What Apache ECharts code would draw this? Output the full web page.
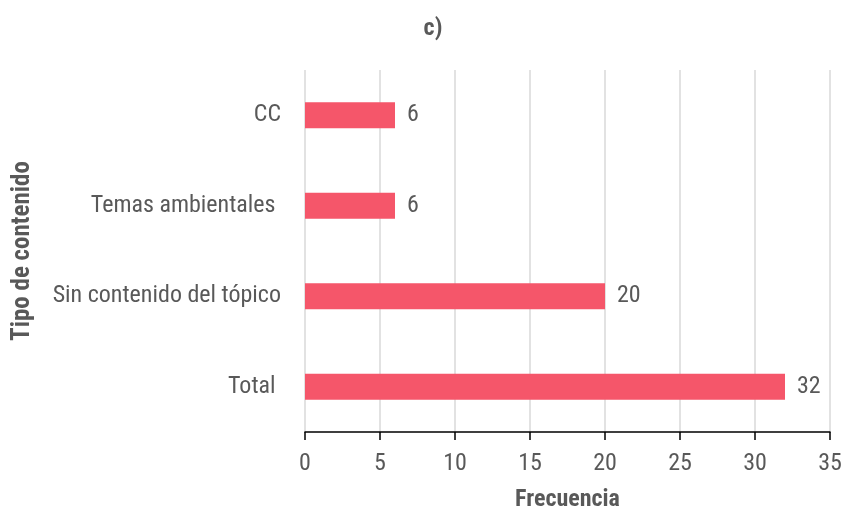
<!DOCTYPE html>
<html>
<head>
<meta charset="utf-8">
<script src="https://cdn.jsdelivr.net/npm/echarts@6/dist/echarts.min.js"></script>
<style>html,body{margin:0;padding:0;background:#fff}#c{width:845px;height:511px}</style>
</head>
<body>
<div id="c"></div>
<script>
const categories = ['CC', 'Temas ambientales ', 'Sin contenido del tópico', 'Total '];
const values = [6, 6, 20, 32];
const xTicks = { min: 0, max: 35, interval: 5 };
const FONT = '"Liberation Sans Narrow", "Roboto Condensed", "DejaVu Sans Condensed", sans-serif';
const GRAY = '#595959';

const chart = echarts.init(document.getElementById('c'));
chart.setOption({
  animation: false,
  title: {
    text: 'c)', left: 428, top: 12, textAlign: 'center',
    textStyle: { fontFamily: FONT, fontSize: 24, fontWeight: 'bold', color: GRAY }
  },
  grid: { left: 305, right: 15, top: 70, bottom: 79, containLabel: false, outerBoundsMode: 'none' },
  xAxis: {
    type: 'value', min: xTicks.min, max: xTicks.max, interval: xTicks.interval,
    name: 'Frecuencia', nameLocation: 'middle', nameGap: 56,
    nameTextStyle: { fontFamily: FONT, fontSize: 24, fontWeight: 'bold', color: GRAY },
    axisLine: { show: true, lineStyle: { color: '#000', width: 1.5 } },
    axisTick: { show: true, length: 8, lineStyle: { color: '#000', width: 1.5 } },
    axisLabel: { fontFamily: FONT, fontSize: 24, color: GRAY, margin: 20 },
    splitLine: { show: true, lineStyle: { color: '#d9d9d9', width: 1.5 } }
  },
  yAxis: {
    type: 'category', data: categories, inverse: true,
    name: 'Tipo de contenido', nameLocation: 'middle', nameGap: 270, nameRotate: 90,
    nameTextStyle: { fontFamily: FONT, fontSize: 25, fontWeight: 'bold', color: GRAY },
    axisLine: { show: false }, axisTick: { show: false },
    axisLabel: { fontFamily: FONT, fontSize: 24, color: GRAY, margin: 24 }
  },
  series: [{
    type: 'bar', data: values, barWidth: 26,
    itemStyle: { color: '#F5566A' },
    label: { show: true, position: 'right', distance: 12, fontFamily: FONT, fontSize: 24, color: GRAY }
  }]
});
</script>
</body>
</html>
